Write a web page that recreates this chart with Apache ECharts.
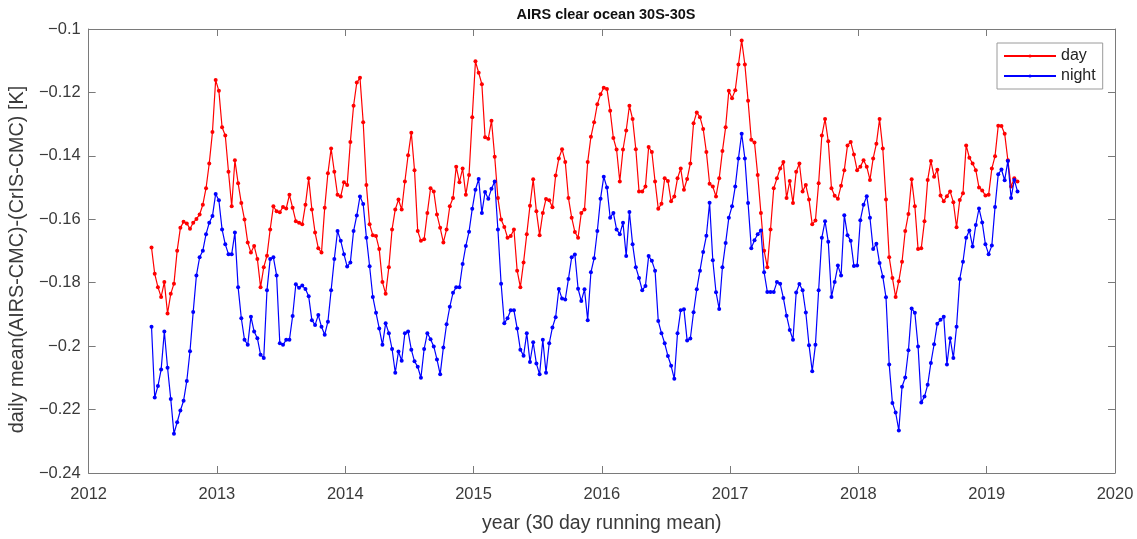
<!DOCTYPE html>
<html>
<head>
<meta charset="utf-8">
<script src="https://cdn.jsdelivr.net/npm/echarts@6.0.0/dist/echarts.min.js"></script>
<style>
html,body{margin:0;padding:0;background:#fff;}
#chart{width:1137px;height:539px;}
</style>
</head>
<body>
<div id="chart"></div>
<script>
// Sample times (decimal year)
const years = [
2012.49,2012.515,2012.54,2012.565,2012.59,2012.615,2012.64,2012.665,2012.69,2012.715,2012.74,2012.765,2012.79,2012.815,2012.84,2012.865,2012.89,2012.915,2012.94,2012.965,2012.99,
2013.015,2013.04,2013.065,2013.09,2013.115,2013.14,2013.165,2013.19,2013.215,2013.24,2013.265,2013.29,2013.315,2013.34,2013.365,2013.39,2013.415,2013.44,2013.465,2013.49,2013.515,2013.54,2013.565,2013.59,2013.615,2013.64,2013.665,2013.69,2013.715,2013.74,2013.765,2013.79,2013.815,2013.84,2013.865,2013.89,2013.915,2013.94,2013.965,2013.99,
2014.015,2014.04,2014.065,2014.09,2014.115,2014.14,2014.165,2014.19,2014.215,2014.24,2014.265,2014.29,2014.315,2014.34,2014.365,2014.39,2014.415,2014.44,2014.465,2014.49,2014.515,2014.54,2014.565,2014.59,2014.615,2014.64,2014.665,2014.69,2014.715,2014.74,2014.765,2014.79,2014.815,2014.84,2014.865,2014.89,2014.915,2014.94,2014.965,2014.99,
2015.015,2015.04,2015.065,2015.09,2015.115,2015.14,2015.165,2015.19,2015.215,2015.24,2015.265,2015.29,2015.315,2015.34,2015.365,2015.39,2015.415,2015.44,2015.465,2015.49,2015.515,2015.54,2015.565,2015.59,2015.615,2015.64,2015.665,2015.69,2015.715,2015.74,2015.765,2015.79,2015.815,2015.84,2015.865,2015.89,2015.915,2015.94,2015.965,2015.99,
2016.015,2016.04,2016.065,2016.09,2016.115,2016.14,2016.165,2016.19,2016.215,2016.24,2016.265,2016.29,2016.315,2016.34,2016.365,2016.39,2016.415,2016.44,2016.465,2016.49,2016.515,2016.54,2016.565,2016.59,2016.615,2016.64,2016.665,2016.69,2016.715,2016.74,2016.765,2016.79,2016.815,2016.84,2016.865,2016.89,2016.915,2016.94,2016.965,2016.99,
2017.015,2017.04,2017.065,2017.09,2017.115,2017.14,2017.165,2017.19,2017.215,2017.24,2017.265,2017.29,2017.315,2017.34,2017.365,2017.39,2017.415,2017.44,2017.465,2017.49,2017.515,2017.54,2017.565,2017.59,2017.615,2017.64,2017.665,2017.69,2017.715,2017.74,2017.765,2017.79,2017.815,2017.84,2017.865,2017.89,2017.915,2017.94,2017.965,2017.99,
2018.015,2018.04,2018.065,2018.09,2018.115,2018.14,2018.165,2018.19,2018.215,2018.24,2018.265,2018.29,2018.315,2018.34,2018.365,2018.39,2018.415,2018.44,2018.465,2018.49,2018.515,2018.54,2018.565,2018.59,2018.615,2018.64,2018.665,2018.69,2018.715,2018.74,2018.765,2018.79,2018.815,2018.84,2018.865,2018.89,2018.915,2018.94,2018.965,2018.99,
2019.015,2019.04,2019.065,2019.09,2019.115,2019.14,2019.165,2019.19,2019.215,2019.24
];

// day series values [K]
const dayValues = [
-0.1689,-0.1772,-0.1814,-0.1845,-0.1798,-0.1897,-0.1835,-0.1803,-0.1699,-0.1627,-0.1608,-0.1613,-0.1630,-0.1611,-0.1599,-0.1585,-0.1554,-0.1502,-0.1424,-0.1325,-0.1161,-0.1195,-0.1310,-0.1336,-0.1450,-0.1559,-0.1414,-0.1486,-0.1549,-0.1601,-0.1673,-0.1705,-0.1684,-0.1725,-0.1814,-0.1751,-0.1715,-0.1632,-0.1559,-0.1575,-0.1578,-0.1561,-0.1566,-0.1523,
-0.1564,-0.1606,-0.1611,-0.1616,-0.1554,-0.1471,-0.1569,-0.1642,-0.1691,-0.1705,-0.1564,-0.1455,-0.1377,-0.1450,-0.1523,-0.1528,-0.1483,-0.1492,-0.1356,-0.1242,-0.1169,-0.1154,-0.1294,-0.1492,-0.1616,-0.1650,-0.1653,-0.1694,-0.1798,-0.1835,-0.1751,-0.1632,-0.1569,-0.1538,-0.1569,-0.1481,-0.1398,-0.1327,-0.1445,-0.1637,-0.1668,-0.1663,-0.1580,-0.1502,-0.1512,-0.1585,
-0.1627,-0.1673,-0.1632,-0.1559,-0.1533,-0.1434,-0.1483,-0.1440,-0.1523,-0.1460,-0.1278,-0.1102,-0.1138,-0.1174,-0.1341,-0.1346,-0.1289,-0.1403,-0.1533,-0.1601,-0.1624,-0.1658,-0.1653,-0.1632,-0.1762,-0.1814,-0.1736,-0.1647,-0.1557,-0.1474,-0.1575,-0.1650,-0.1580,-0.1536,-0.1540,-0.1562,-0.1462,-0.1408,-0.1379,-0.1419,-0.1533,-0.1595,-0.1640,-0.1658,-0.1580,
-0.1569,-0.1419,-0.1340,-0.1294,-0.1237,-0.1206,-0.1185,-0.1189,-0.1258,-0.1344,-0.1380,-0.1481,-0.1380,-0.1320,-0.1242,-0.1284,-0.1379,-0.1512,-0.1512,-0.1497,-0.1372,-0.1388,-0.1481,-0.1567,-0.1551,-0.1471,-0.1479,-0.1543,-0.1528,-0.1471,-0.1440,-0.1507,-0.1473,-0.1424,-0.1297,-0.1263,-0.1278,-0.1315,-0.1388,-0.1488,-0.1497,-0.1528,-0.1471,-0.1385,-0.1310,
-0.1195,-0.1218,-0.1193,-0.1112,-0.1036,-0.1112,-0.1226,-0.1349,-0.1358,-0.1460,-0.1580,-0.1699,-0.1751,-0.1632,-0.1502,-0.1471,-0.1440,-0.1419,-0.1533,-0.1479,-0.1549,-0.1450,-0.1424,-0.1512,-0.1492,-0.1538,-0.1616,-0.1604,-0.1486,-0.1336,-0.1284,-0.1354,-0.1502,-0.1526,-0.1535,-0.1494,-0.1445,-0.1367,-0.1356,-0.1396,-0.1445,-0.1434,-0.1414,-0.1434,-0.1476,
-0.1408,-0.1362,-0.1284,-0.1377,-0.1538,-0.1720,-0.1785,-0.1845,-0.1795,-0.1734,-0.1637,-0.1583,-0.1474,-0.1559,-0.1694,-0.1691,-0.1606,-0.1476,-0.1416,-0.1466,-0.1444,-0.1525,-0.1543,-0.1527,-0.1512,-0.1546,-0.1625,-0.1539,-0.1518,-0.1367,-0.1406,-0.1424,-0.1445,-0.1500,-0.1509,-0.1525,-0.1523,-0.1440,-0.1401,-0.1305,-0.1306,-0.1330,-0.1414,-0.1497,-0.1471,-0.1481
];

// night series values [K]
const nightValues = [
-0.1939,-0.2162,-0.2126,-0.2074,-0.1954,-0.2068,-0.2167,-0.2276,-0.2240,-0.2203,-0.2172,-0.2110,-0.2016,-0.1892,-0.1777,-0.1720,-0.1699,-0.1647,-0.1611,-0.1590,-0.1520,-0.1540,-0.1632,-0.1679,-0.1710,-0.1710,-0.1642,-0.1814,-0.1912,-0.1980,-0.1996,-0.1907,-0.1954,-0.1975,-0.2027,-0.2037,-0.1824,-0.1725,-0.1720,-0.1777,-0.1991,-0.1996,-0.1980,-0.1980,
-0.1905,-0.1805,-0.1816,-0.1809,-0.1820,-0.1843,-0.1918,-0.1933,-0.1902,-0.1939,-0.1964,-0.1923,-0.1824,-0.1725,-0.1637,-0.1668,-0.1710,-0.1749,-0.1736,-0.1637,-0.1588,-0.1528,-0.1552,-0.1658,-0.1748,-0.1845,-0.1895,-0.1944,-0.1996,-0.1928,-0.1959,-0.2009,-0.2084,-0.2017,-0.2046,-0.1959,-0.1954,-0.2011,-0.2048,-0.2065,-0.2100,-0.2009,-0.1959,-0.1978,-0.2001,-0.2042,
-0.2089,-0.2004,-0.1931,-0.1876,-0.1832,-0.1814,-0.1814,-0.1741,-0.1684,-0.1639,-0.1567,-0.1507,-0.1473,-0.1580,-0.1514,-0.1535,-0.1504,-0.1481,-0.1632,-0.1803,-0.1928,-0.1912,-0.1887,-0.1887,-0.1944,-0.2011,-0.2030,-0.1959,-0.2050,-0.1988,-0.2055,-0.2089,-0.1980,-0.2084,-0.1991,-0.1941,-0.1909,-0.1820,-0.1850,-0.1853,-0.1788,-0.1720,-0.1711,-0.1819,-0.1858,
-0.1821,-0.1918,-0.1767,-0.1723,-0.1637,-0.1535,-0.1466,-0.1500,-0.1595,-0.1580,-0.1632,-0.1647,-0.1611,-0.1716,-0.1577,-0.1679,-0.1751,-0.1785,-0.1824,-0.1810,-0.1716,-0.1731,-0.1762,-0.1921,-0.1959,-0.1991,-0.2031,-0.2062,-0.2103,-0.1959,-0.1887,-0.1884,-0.1982,-0.1976,-0.1893,-0.1821,-0.1762,-0.1703,-0.1652,-0.1548,-0.1729,-0.1830,-0.1883,-0.1751,-0.1675,
-0.1595,-0.1559,-0.1497,-0.1408,-0.1330,-0.1408,-0.1549,-0.1691,-0.1666,-0.1647,-0.1635,-0.1767,-0.1829,-0.1829,-0.1829,-0.1798,-0.1803,-0.1848,-0.1904,-0.1949,-0.1980,-0.1831,-0.1804,-0.1824,-0.1894,-0.1997,-0.2079,-0.1996,-0.1824,-0.1658,-0.1606,-0.1671,-0.1845,-0.1798,-0.1746,-0.1777,-0.1587,-0.1650,-0.1668,-0.1747,-0.1746,-0.1603,-0.1554,-0.1527,-0.1595,
-0.1694,-0.1677,-0.1738,-0.1781,-0.1846,-0.2058,-0.2179,-0.2209,-0.2266,-0.2128,-0.2099,-0.2013,-0.1881,-0.1895,-0.2001,-0.2178,-0.2159,-0.2122,-0.2053,-0.1994,-0.1929,-0.1917,-0.1907,-0.2058,-0.1975,-0.2037,-0.1939,-0.1788,-0.1734,-0.1658,-0.1635,-0.1686,-0.1618,-0.1566,-0.1610,-0.1679,-0.1710,-0.1683,-0.1561,-0.1458,-0.1443,-0.1477,-0.1416,-0.1533,-0.1476,-0.1512
];

const seriesNames = ['day', 'night'];
const xTicks = {min: 2012, max: 2020, interval: 1};
const yTicks = {min: -0.24, max: -0.1, interval: 0.02};

const FONT = '"Liberation Sans", Arial, Helvetica, sans-serif';
const AXIS_COLOR = '#7a7a7a';
const TEXT_COLOR = '#3a3a3a';

const dayData = years.map((y, i) => [y, dayValues[i]]);
const nightData = years.map((y, i) => [y, nightValues[i]]);

const chart = echarts.init(document.getElementById('chart'), null, {renderer: 'canvas'});

const baseAxisLine = {show: true, lineStyle: {color: AXIS_COLOR, width: 1}};
const tickIn = {show: true, inside: true, length: 7, lineStyle: {color: AXIS_COLOR, width: 1}};

chart.setOption({
  animation: false,
  backgroundColor: '#ffffff',
  textStyle: {fontFamily: FONT},
  title: {
    text: 'AIRS clear ocean 30S-30S',
    left: 601, top: 2, textAlign: 'center',
    textStyle: {fontFamily: FONT, fontSize: 14.5, fontWeight: 'bold', color: '#111'}
  },
  legend: {
    data: seriesNames,
    orient: 'vertical',
    left: 997, top: 43,
    itemWidth: 52, itemHeight: 4, itemGap: 4,
    padding: [5, 7, 5, 6],
    borderColor: '#9a9a9a', borderWidth: 1,
    backgroundColor: '#fff',
    textStyle: {fontFamily: FONT, fontSize: 16, color: '#222'}
  },
  grid: {left: 85, right: 22, top: 29, bottom: 61, containLabel: false},
  xAxis: [
    {
      type: 'value', min: xTicks.min, max: xTicks.max, interval: xTicks.interval,
      name: 'year (30 day running mean)', nameLocation: 'middle', nameGap: 41,
      nameTextStyle: {fontFamily: FONT, fontSize: 19.5, color: TEXT_COLOR},
      axisLine: baseAxisLine, axisTick: tickIn,
      axisLabel: {fontFamily: FONT, fontSize: 16.5, color: TEXT_COLOR, margin: 13,
        formatter: v => String(Math.round(v))},
      splitLine: {show: false}
    },
    {
      type: 'value', position: 'top', min: xTicks.min, max: xTicks.max, interval: xTicks.interval,
      axisLine: baseAxisLine, axisTick: tickIn, axisLabel: {show: false}, splitLine: {show: false}
    }
  ],
  yAxis: [
    {
      type: 'value', min: yTicks.min, max: yTicks.max, interval: yTicks.interval,
      name: 'daily mean(AIRS-CMC)-(CrIS-CMC) [K]', nameLocation: 'middle', nameGap: 57, nameRotate: 90,
      nameTextStyle: {fontFamily: FONT, fontSize: 19.8, color: TEXT_COLOR, padding: [0, 17, 0, 0]},
      axisLine: baseAxisLine, axisTick: tickIn,
      axisLabel: {fontFamily: FONT, fontSize: 16.5, color: TEXT_COLOR, margin: 8,
        formatter: v => String(parseFloat(v.toFixed(2))).replace('-', '\u2212')},
      splitLine: {show: false}
    },
    {
      type: 'value', position: 'right', min: yTicks.min, max: yTicks.max, interval: yTicks.interval,
      axisLine: baseAxisLine, axisTick: tickIn, axisLabel: {show: false}, splitLine: {show: false}
    }
  ],
  series: [
    {
      name: seriesNames[0], type: 'line', xAxisIndex: 0, yAxisIndex: 0,
      data: dayData, showSymbol: true, showAllSymbol: true,
      symbol: 'circle', symbolSize: 4,
      lineStyle: {color: '#ff0000', width: 1.2},
      itemStyle: {color: '#ff0000'},
      z: 2
    },
    {
      name: seriesNames[1], type: 'line', xAxisIndex: 0, yAxisIndex: 0,
      data: nightData, showSymbol: true, showAllSymbol: true,
      symbol: 'circle', symbolSize: 4,
      lineStyle: {color: '#0000ff', width: 1.2},
      itemStyle: {color: '#0000ff'},
      z: 3
    }
  ]
});
</script>
</body>
</html>
